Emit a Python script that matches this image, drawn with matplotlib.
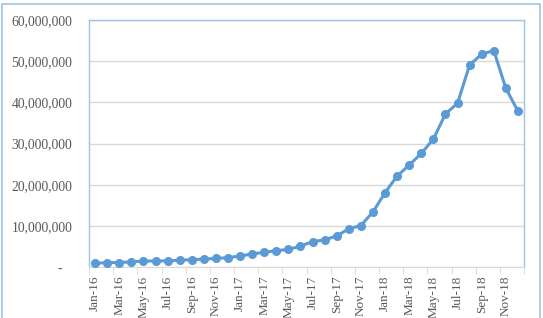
import numpy as np
import matplotlib
matplotlib.use("Agg")
import matplotlib.pyplot as plt
import matplotlib.ticker as mticker
from matplotlib.patches import Rectangle

MONTHS = ["Jan", "Feb", "Mar", "Apr", "May", "Jun",
          "Jul", "Aug", "Sep", "Oct", "Nov", "Dec"]
YEARS = ["16", "17", "18"]
CATEGORIES = [f"{m}-{y}" for y in YEARS for m in MONTHS]

VALUES = [0.9, 1.1, 1.1, 1.3, 1.45, 1.5, 1.5, 1.7, 1.8, 1.95, 2.1, 2.3,
          2.7, 3.2, 3.6, 4.0, 4.3, 5.1, 6.2, 6.6, 7.6, 9.3, 10.1, 13.4,
          18.1, 22.1, 24.8, 27.6, 31.1, 37.2, 39.8, 49.1, 51.7, 52.6, 43.4, 37.9]
VALUES = [v * 1_000_000 for v in VALUES]

LINE_COLOR = "#5B9BD5"
TEXT_COLOR = "#595959"
FRAME_COLOR = "#9DC3E6"

plt.rcParams['font.family'] = ['Liberation Serif', 'DejaVu Serif']

fig = plt.figure(figsize=(5.43, 3.18), dpi=100)
ax = fig.add_axes([0.164, 0.160, 0.801, 0.777])

x = np.arange(len(VALUES))
ax.plot(x, VALUES, color=LINE_COLOR, linewidth=2.2, marker='o',
        markersize=5.5, zorder=3)

ax.set_xlim(-0.5, len(VALUES) - 0.5)
ax.set_ylim(0, 60_000_000)
ax.yaxis.set_major_locator(mticker.MultipleLocator(10_000_000))
ax.yaxis.set_major_formatter(mticker.FuncFormatter(
    lambda v, p: "-   " if v == 0 else f"{int(v):,}"))
ax.grid(axis='y', color="#D9D9D9", linewidth=1)
ax.set_axisbelow(True)

ax.set_xticks(x[::2])
ax.set_xticklabels(CATEGORIES[::2], rotation=90)
ax.set_xticks(np.arange(-0.5, len(VALUES), 2), minor=True)
ax.tick_params(axis='x', which='major', length=0, pad=6,
               labelsize=9.5, labelcolor=TEXT_COLOR)
ax.tick_params(axis='x', which='minor', length=5, color="#D9D9D9")
ax.tick_params(axis='y', length=0, pad=12, labelsize=9.8,
               labelcolor=TEXT_COLOR)

for side in ['left', 'top', 'right']:
    ax.spines[side].set_color(FRAME_COLOR)
    ax.spines[side].set_linewidth(1)
ax.spines['bottom'].set_color("#D9D9D9")

# outer chart frame
fig.patches.append(Rectangle((0.003, -0.05), 0.992, 1.037,
                             transform=fig.transFigure, fill=False,
                             edgecolor=FRAME_COLOR, linewidth=1.2))

fig.savefig("out.png", dpi=100)
